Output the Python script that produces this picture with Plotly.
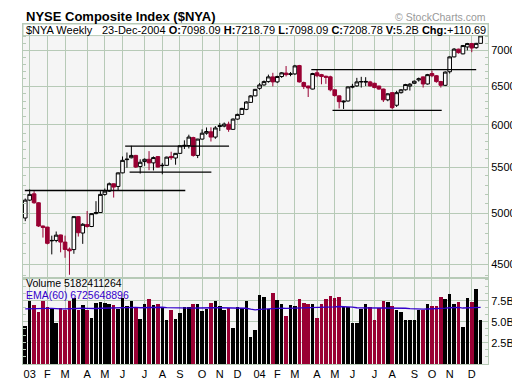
import plotly.graph_objects as go

# Weekly bars, 03-Jan-2003 .. 23-Dec-2004 (bar index 0..103)
week_idx = list(range(104))

opens = [4952, 5138, 5205, 5110, 4871, 4860, 4724, 4728, 4782, 4712,
         4644, 4640, 4966, 4801, 4885, 4866, 4997, 5008, 5199, 5234,
         5314, 5285, 5435, 5585, 5607, 5634, 5507, 5563, 5589, 5548,
         5620, 5515, 5520, 5622, 5604, 5658, 5745, 5750, 5845, 5634,
         5827, 5898, 5915, 5851, 5980, 5985, 6008, 5945, 6072, 6131,
         6195, 6285, 6370, 6470, 6515, 6560, 6624, 6556, 6629, 6676,
         6658, 6665, 6780, 6547, 6500, 6460, 6680, 6655, 6633, 6625,
         6450, 6370, 6290, 6303, 6485, 6502, 6556, 6552, 6556, 6537,
         6500, 6460, 6318, 6412, 6248, 6412, 6450, 6500, 6537, 6583,
         6624, 6528, 6670, 6640, 6560, 6510, 6695, 6903, 7014, 6946,
         7046, 7095, 7035, 7098.09]
highs = [5155, 5252, 5234, 5115, 4875, 4862, 4775, 4816, 4785, 4775,
         4660, 4970, 4970, 4900, 5024, 5000, 5127, 5234, 5262, 5328,
         5318, 5440, 5622, 5668, 5747, 5640, 5589, 5600, 5684, 5622,
         5625, 5548, 5620, 5677, 5662, 5750, 5812, 5880, 5855, 5830,
         5945, 5968, 5970, 5985, 6024, 6030, 6040, 6080, 6140, 6215,
         6300, 6380, 6462, 6540, 6575, 6655, 6680, 6640, 6690, 6774,
         6690, 6790, 6790, 6560, 6505, 6680, 6730, 6665, 6640, 6640,
         6455, 6375, 6310, 6495, 6530, 6611, 6625, 6620, 6570, 6545,
         6505, 6465, 6405, 6420, 6437, 6460, 6530, 6540, 6575, 6615,
         6630, 6665, 6710, 6650, 6570, 6700, 6910, 7030, 7020, 7075,
         7105, 7105, 7105, 7218.79]
lows = [4920, 5128, 5100, 4862, 4756, 4690, 4594, 4710, 4614, 4562,
        4405, 4600, 4766, 4695, 4855, 4860, 4990, 5005, 5185, 5225,
        5165, 5241, 5430, 5493, 5600, 5490, 5427, 5514, 5465, 5462,
        5495, 5419, 5515, 5583, 5527, 5650, 5709, 5715, 5620, 5603,
        5820, 5880, 5798, 5830, 5925, 5970, 5915, 5940, 6065, 6125,
        6185, 6280, 6365, 6450, 6505, 6545, 6496, 6540, 6610, 6630,
        6633, 6650, 6547, 6460, 6355, 6455, 6620, 6524, 6530, 6430,
        6360, 6207, 6200, 6295, 6470, 6490, 6480, 6500, 6495, 6470,
        6450, 6290, 6300, 6200, 6226, 6400, 6440, 6440, 6530, 6560,
        6480, 6520, 6620, 6545, 6480, 6500, 6670, 6895, 6950, 6940,
        6996, 6970, 7020, 7098.09]
closes = [5138, 5199, 5110, 4871, 4857, 4700, 4728, 4780, 4712, 4641,
          4628, 4966, 4804, 4888, 4866, 4997, 5008, 5199, 5234, 5314,
          5278, 5435, 5577, 5590, 5634, 5500, 5555, 5589, 5548, 5609,
          5500, 5520, 5614, 5608, 5658, 5747, 5752, 5851, 5634, 5827,
          5898, 5918, 5851, 5962, 5990, 6010, 5945, 6072, 6131, 6207,
          6290, 6370, 6456, 6515, 6560, 6624, 6556, 6629, 6680, 6655,
          6665, 6776, 6556, 6493, 6475, 6670, 6640, 6629, 6620, 6450,
          6374, 6294, 6300, 6489, 6495, 6556, 6560, 6562, 6502, 6480,
          6460, 6318, 6397, 6217, 6412, 6450, 6520, 6525, 6565, 6598,
          6528, 6655, 6640, 6560, 6510, 6690, 6903, 7014, 6963, 7066,
          7095, 7030, 7098.09, 7208.78]
volume_bn = [4.44, 7.45, 7.00, 6.08, 7.45, 6.77, 6.54, 4.78, 6.54, 6.31,
             7.45, 7.76, 6.31, 7.00, 6.31, 5.47, 7.22, 7.34, 7.22, 7.11,
             7.00, 6.42, 7.76, 6.85, 7.45, 6.77, 5.28, 7.11, 7.68, 7.00,
             7.11, 6.54, 5.16, 6.31, 5.28, 5.96, 6.77, 6.77, 7.11, 7.11,
             6.19, 6.42, 7.22, 7.42, 6.89, 6.31, 6.54, 4.21, 6.77, 6.54,
             7.42, 3.18, 4.01, 8.10, 7.88, 6.42, 8.34, 7.53, 7.11, 5.66,
             6.96, 6.80, 7.65, 7.19, 7.07, 7.07, 5.36, 7.07, 7.65, 8.07,
             7.76, 7.88, 6.77, 6.77, 4.78, 4.78, 6.42, 7.07, 6.69, 5.16,
             6.62, 7.42, 7.34, 6.85, 6.31, 6.08, 5.16, 5.16, 5.16, 6.31,
             6.31, 7.11, 6.85, 6.85, 7.88, 7.65, 8.22, 7.07, 7.34, 4.32,
             7.76, 7.34, 8.80, 5.182411264]
ema_start_bn = 6.6  # EMA(60) level read at the first bar

month_tick_idx = [1, 5, 9, 14, 18, 22, 27, 31, 35, 40, 44, 48,
                  53, 57, 61, 66, 70, 74, 79, 83, 88, 92, 96, 101]
month_labels = ["03", "F", "M", "A", "M", "J", "J", "A", "S", "O", "N", "D",
                "04", "F", "M", "A", "M", "J", "J", "A", "S", "O", "N", "D"]
price_ticks = [4500, 5000, 5500, 6000, 6500, 7000]
price_minor = [4400, 4600, 4700, 4800, 4900, 5100, 5200, 5300, 5400, 5600,
               5700, 5800, 5900, 6100, 6200, 6300, 6400, 6600, 6700, 6800,
               6900, 7100, 7200, 7300]
vol_ticks = [2.5, 5.0, 7.5]
vol_tick_text = ["2.5B", "5.0B", "7.5B"]

# hand-drawn support / resistance lines: level and bar-index extent
trend_level = [5241, 5744, 5444, 6723, 6183]
trend_from = [-0.1, 22.6, 23.6, 64.7, 69.5]
trend_to = [36.2, 46.1, 42.1, 102.0, 94.2]

RED = "#990033"
GRID = "#b7cab7"
BG = "#f5f5f5"
BLUE = "#3300cc"
FONT = "Liberation Sans, Arial, sans-serif"

n = len(week_idx)
black_idx = [k for k in week_idx if k == 0 or closes[k] >= closes[k - 1]]
red_idx = [k for k in week_idx if k > 0 and closes[k] < closes[k - 1]]


def pick(arr, idx):
    return [arr[k] for k in idx]


fig = go.Figure()
fig.add_trace(go.Candlestick(
    x=black_idx, open=pick(opens, black_idx), high=pick(highs, black_idx),
    low=pick(lows, black_idx), close=pick(closes, black_idx),
    increasing=dict(line=dict(color="black", width=1), fillcolor="white"),
    decreasing=dict(line=dict(color="black", width=1), fillcolor="black"),
    whiskerwidth=0, xaxis="x", yaxis="y", hoverinfo="skip"))
fig.add_trace(go.Candlestick(
    x=red_idx, open=pick(opens, red_idx), high=pick(highs, red_idx),
    low=pick(lows, red_idx), close=pick(closes, red_idx),
    increasing=dict(line=dict(color=RED, width=1), fillcolor="white"),
    decreasing=dict(line=dict(color=RED, width=1), fillcolor=RED),
    whiskerwidth=0, xaxis="x", yaxis="y", hoverinfo="skip"))

for lvl, a, b in zip(trend_level, trend_from, trend_to):
    fig.add_trace(go.Scatter(x=[a, b], y=[lvl, lvl], mode="lines",
                             line=dict(color="black", width=1.3),
                             xaxis="x", yaxis="y", hoverinfo="skip"))

vol_colors = [RED if k in red_idx else "black" for k in week_idx]
fig.add_trace(go.Bar(x=week_idx, y=volume_bn, marker=dict(color=vol_colors, line=dict(width=0)),
                     width=0.8, xaxis="x2", yaxis="y2", hoverinfo="skip"))

alpha = 2.0 / 61.0
ema = []
prev = ema_start_bn
for v in volume_bn:
    prev = prev + alpha * (v - prev)
    ema.append(prev)
fig.add_trace(go.Scatter(x=week_idx, y=ema, mode="lines", line=dict(color=BLUE, width=1.4),
                         xaxis="x2", yaxis="y2", hoverinfo="skip"))

L, R, T, B = 15, 32, 16, 16
W, H = 520, 384
pw, ph = W - L - R, H - T - B


def px(X):
    return (X - L) / pw


def py(Y):
    return (H - B - Y) / ph


split = py(279.3)
xr = [-0.51, 104.67]

axis_common = dict(showgrid=True, gridcolor=GRID, gridwidth=1, zeroline=False,
                   showline=True, linecolor=GRID, linewidth=1, mirror=True)

fig.update_layout(
    width=W, height=H, margin=dict(l=L, r=R, t=T, b=B),
    paper_bgcolor="white", plot_bgcolor=BG, showlegend=False,
    boxgap=0.18, boxgroupgap=0, bargap=0,
    font=dict(family=FONT, size=11, color="black"),
    xaxis=dict(domain=[0, 1], anchor="y", range=xr, tickmode="array", tickvals=month_tick_idx,
               showticklabels=False, ticks="", rangeslider=dict(visible=False), **axis_common),
    xaxis2=dict(domain=[0, 1], anchor="y2", range=xr, tickmode="array", tickvals=month_tick_idx,
                ticktext=month_labels, ticks="", tickfont=dict(size=11, family=FONT), **axis_common),
    yaxis=dict(domain=[split, 1], anchor="x", type="log", range=[3.64077, 3.86848], side="right",
               tickmode="array", tickvals=price_ticks, ticktext=[str(v) for v in price_ticks],
               ticks="inside", ticklen=3, tickcolor=GRID,
               minor=dict(tickmode="array", tickvals=price_minor, ticks="inside", ticklen=3,
                          tickcolor=GRID, showgrid=False),
               **{**axis_common, "mirror": "ticks"}),
    yaxis2=dict(domain=[0, split], anchor="x2", range=[0, 10.15], side="right",
                tickmode="array", tickvals=vol_ticks, ticktext=vol_tick_text,
                ticks="inside", ticklen=3, tickcolor=GRID,
                minor=dict(dtick=2.5 / 3, ticks="inside", ticklen=3, tickcolor=GRID, showgrid=False),
                **{**axis_common, "mirror": "ticks"}),
)

# header strip inside the top of the price panel
fig.add_shape(type="rect", xref="paper", yref="paper", x0=0, x1=1, y0=py(28), y1=1,
              fillcolor="white", line=dict(color=GRID, width=1), layer="above")

last = n - 1
chg = closes[last] - closes[last - 1]
header = ("%s <b>O:</b>%.2f <b>H:</b>%.2f <b>L:</b>%.2f <b>C:</b>%.2f <b>V:</b>%.1fB <b>Chg:</b>%+.2f"
          % ("23-Dec-2004", opens[last], highs[last], lows[last], closes[last], volume_bn[last], chg))

ann = [
    dict(text="<b>NYSE Composite Index ($NYA)</b>", x=px(16), y=py(8.5), xanchor="left",
         yanchor="middle", font=dict(size=13, family=FONT, color="black")),
    dict(text="© StockCharts.com", x=px(487.5), y=py(8.5), xanchor="right", yanchor="middle",
         font=dict(size=10.5, family=FONT, color="#999999")),
    dict(text="$NYA Weekly", x=px(16.5), y=py(22), xanchor="left", yanchor="middle",
         font=dict(size=11, family=FONT, color="black")),
    dict(text=header, x=px(487.5), y=py(22), xanchor="right", yanchor="middle",
         font=dict(size=11, family=FONT, color="black")),
    dict(text="Volume %d" % round(volume_bn[last] * 1e9), x=px(16.5), y=py(284), xanchor="left",
         yanchor="middle", font=dict(size=10.5, family=FONT, color="black")),
    dict(text="EMA(60) 6725648896", x=px(16.5), y=py(297), xanchor="left", yanchor="middle",
         font=dict(size=10.5, family=FONT, color=BLUE)),
]
for a in ann:
    a.update(xref="paper", yref="paper", showarrow=False)
fig.update_layout(annotations=ann)

fig.write_html("out.html")
